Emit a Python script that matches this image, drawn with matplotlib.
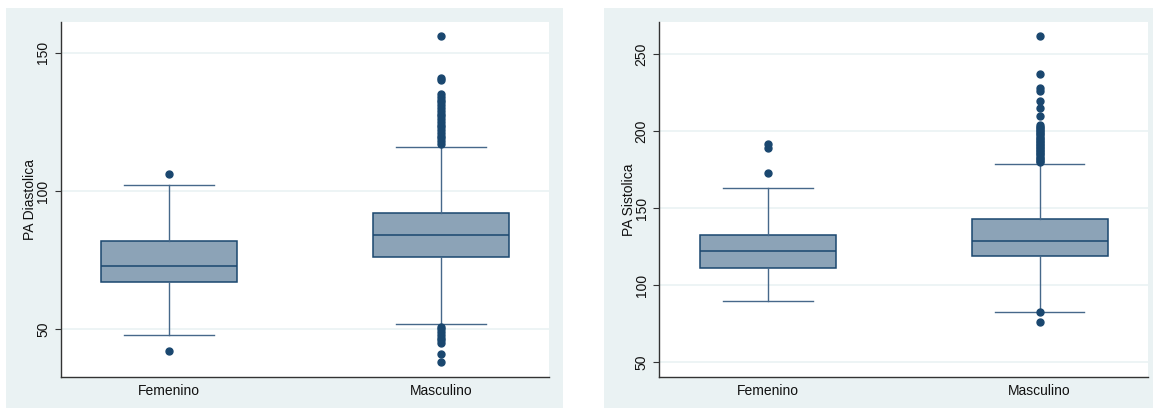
import matplotlib
matplotlib.use("Agg")
import matplotlib.pyplot as plt
from matplotlib.patches import Rectangle

plt.rcParams['font.family'] = ['Liberation Sans', 'DejaVu Sans']

# ---------------- data ----------------
categories = ["Femenino", "Masculino"]

# PA Diastolica
dia_q1 = [67, 76]
dia_med = [73, 84]
dia_q3 = [82, 92]
dia_whislo = [48, 52]
dia_whishi = [102, 116]
dia_fliers_fem = [106, 42]
dia_fliers_mas = [156, 141, 140, 135, 134, 133, 132, 131, 130, 129, 128, 127, 126,
                  125, 124, 123, 122, 121, 120, 119, 118, 117,
                  51, 50, 49, 48, 47, 46, 45, 41, 38]
dia_ticks = [50, 100, 150]

# PA Sistolica
sis_q1 = [111, 119]
sis_med = [122, 129]
sis_q3 = [133, 143]
sis_whislo = [90, 83]
sis_whishi = [163, 179]
sis_fliers_fem = [192, 189, 173]
sis_fliers_mas = [262, 237, 228, 226, 220, 215, 210, 204, 203, 202, 201, 200, 199,
                  198, 197, 196, 195, 194, 193, 192, 191, 190, 189, 188, 187, 186,
                  185, 184, 183, 182, 181, 180, 83, 76]
sis_ticks = [50, 100, 150, 200, 250]

# ---------------- style ----------------
BG = "#EAF2F3"
NAVY = "#1A476F"
FILL = "#8CA3B7"
WHISK = "#46688A"

W, H = 1153, 408
fig = plt.figure(figsize=(W / 100, H / 100), dpi=100)
fig.patch.set_facecolor("white")

def fx(px):
    return px / W

def fy(py):
    return 1 - py / H

# panel backgrounds
for x0, x1 in [(6, 563), (604, 1153)]:
    fig.patches.append(Rectangle((fx(x0), fy(408)), fx(x1) - fx(x0), fy(8) - fy(408),
                                 transform=fig.transFigure, facecolor=BG,
                                 edgecolor="none", zorder=-10))


def make_panel(rect, q1, med, q3, wlo, whi, fliers_list, ticks, ylim, ylabel):
    ax = fig.add_axes(rect)
    ax.set_zorder(1)
    ax.set_facecolor("white")
    stats = []
    for i in range(len(categories)):
        stats.append(dict(med=med[i], q1=q1[i], q3=q3[i], whislo=wlo[i],
                          whishi=whi[i], fliers=fliers_list[i], label=categories[i]))
    ax.bxp(stats, positions=[1, 2], widths=0.5, patch_artist=True,
           showfliers=True, capwidths=0.33,
           boxprops=dict(facecolor=FILL, edgecolor=NAVY, linewidth=1.1),
           medianprops=dict(color=NAVY, linewidth=1.1),
           whiskerprops=dict(color=WHISK, linewidth=1.0),
           capprops=dict(color=WHISK, linewidth=1.0),
           flierprops=dict(marker="o", markerfacecolor=NAVY, markeredgecolor=NAVY,
                           markersize=5.0, linestyle="none"))
    ax.set_xlim(0.6, 2.4)
    ax.set_ylim(*ylim)
    ax.set_yticks(ticks)
    ax.set_yticklabels([str(t) for t in ticks])
    ax.grid(axis="y", color=BG, linewidth=1.2, zorder=0)
    ax.set_axisbelow(True)
    for s in ["top", "right"]:
        ax.spines[s].set_visible(False)
    for s in ["left", "bottom"]:
        ax.spines[s].set_color("#333333")
        ax.spines[s].set_linewidth(1.0)
    ax.tick_params(axis="y", length=4, width=0.8, color="#333333", pad=3.5,
                   labelsize=10, labelcolor="#111111")
    ax.tick_params(axis="x", length=0, pad=5, labelsize=10, labelcolor="#111111")
    for lab in ax.get_yticklabels():
        lab.set_rotation(90)
        lab.set_va("center")
    ax.set_ylabel(ylabel, fontsize=10, color="#111111")
    ax.yaxis.set_label_coords(-0.062, 0.5)
    ax.yaxis.label.set_va("center")
    return ax


top, bot = 22, 377
make_panel([fx(60.7), fy(bot), fx(549.3) - fx(60.7), fy(top) - fy(bot)],
           dia_q1, dia_med, dia_q3, dia_whislo, dia_whishi,
           [dia_fliers_fem, dia_fliers_mas], dia_ticks, (32.75, 161.1), "PA Diastolica")
make_panel([fx(659), fy(bot), fx(1148.3) - fx(659), fy(top) - fy(bot)],
           sis_q1, sis_med, sis_q3, sis_whislo, sis_whishi,
           [sis_fliers_fem, sis_fliers_mas], sis_ticks, (40.5, 271.0), "PA Sistolica")

fig.savefig("out.png", dpi=100, facecolor="white")
